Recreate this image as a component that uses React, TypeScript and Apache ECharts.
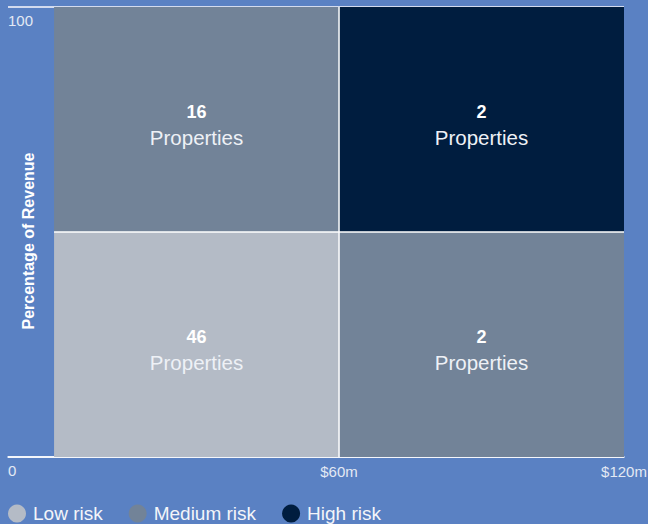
import React, { useEffect, useRef } from "react";
import * as echarts from "echarts";

// Cells: [xStart, xEnd, yStart, yEnd, propertyCount]
const lowRiskCells = [[0, 60, 0, 50, 46]];
const mediumRiskCells = [
  [0, 60, 50, 100, 16],
  [60, 120, 0, 50, 2],
];
const highRiskCells = [[60, 120, 50, 100, 2]];

const riskNames = ["Low risk", "Medium risk", "High risk"];
const riskColors = ["#b4bbc6", "#728398", "#001d3f"];
const xTickValues = [60, 120];
const yAxisTitle = "Percentage of Revenue";
const cellLabel = "Properties";

const FONT = "'Liberation Sans', Arial, Helvetica, sans-serif";

function renderCell(params: any, api: any) {
  const x0 = api.value(0);
  const x1 = api.value(1);
  const y0 = api.value(2);
  const y1 = api.value(3);
  const n = api.value(4);
  const tl = api.coord([x0, y1]);
  const br = api.coord([x1, y0]);
  const children: any[] = [
    {
      type: "rect",
      shape: { x: tl[0], y: tl[1], width: br[0] - tl[0], height: br[1] - tl[1] },
      style: { fill: api.visual("color") },
    },
  ];
  if (x0 > 0) {
    children.push({
      type: "line",
      shape: { x1: tl[0], y1: tl[1], x2: tl[0], y2: br[1] },
      style: { stroke: "#ffffff", lineWidth: 1.5 },
    });
  }
  if (y0 > 0) {
    children.push({
      type: "line",
      shape: { x1: tl[0], y1: br[1], x2: br[0], y2: br[1] },
      style: { stroke: "#ffffff", lineWidth: 1.5 },
    });
  }
  children.push({
    type: "text",
    style: {
      x: (tl[0] + br[0]) / 2,
      y: (tl[1] + br[1]) / 2 + 5,
      align: "center",
      verticalAlign: "middle",
      text: `{n|${n}}\n{p|${cellLabel}}`,
      rich: {
        n: { fontFamily: FONT, fontSize: 18, fontWeight: "bold", fill: "#ffffff", lineHeight: 26, align: "center" },
        p: { fontFamily: FONT, fontSize: 20.5, fill: "#eef1f6", lineHeight: 26, align: "center" },
      },
    },
  });
  return { type: "group", children };
}

function makeSeries(name: string, color: string, data: number[][]) {
  return {
    type: "custom",
    name,
    color,
    itemStyle: { color },
    renderItem: renderCell,
    encode: { x: [0, 1], y: [2, 3] },
    data,
    silent: true,
  };
}

export default function App() {
  const ref = useRef<HTMLDivElement>(null);
  useEffect(() => {
    if (!ref.current) return;
    const chart = echarts.init(ref.current, undefined, { renderer: "svg" });
    chart.setOption({
      animation: false,
      backgroundColor: "#5a81c3",
      textStyle: { fontFamily: FONT },
      grid: { left: 8, right: 24, top: 7, bottom: 67, outerBoundsMode: "none", containLabel: false },
      xAxis: {
        type: "value",
        min: -9.7,
        max: 120,
        axisLine: { show: true, lineStyle: { color: "#ffffff", width: 1.5 } },
        axisTick: { show: false },
        splitLine: { show: false },
        axisLabel: {
          customValues: xTickValues,
          formatter: (v: number) => `$${v}m`,
          color: "#e3e9f4",
          fontSize: 15,
          fontFamily: FONT,
          margin: 7,
        },
      },
      yAxis: {
        type: "value",
        min: 0,
        max: 100,
        interval: 100,
        name: yAxisTitle,
        nameLocation: "middle",
        nameGap: -28,
        nameRotate: 90,
        nameMoveOverlap: false,
        nameTextStyle: {
          color: "#ffffff",
          fontSize: 16,
          fontWeight: "bold",
          fontFamily: FONT,
          padding: [0, 18, 0, 0],
        },
        axisLine: { show: false },
        axisTick: { show: false },
        splitLine: { show: true, lineStyle: { color: "#d3dbee", width: 2 } },
        axisLabel: {
          inside: true,
          margin: 0,
          align: "left",
          verticalAlign: "top",
          padding: [6, 0, 0, 0],
          color: "#e3e9f4",
          fontSize: 15,
          fontFamily: FONT,
        },
      },
      legend: {
        left: 8,
        top: 504,
        padding: 0,
        icon: "circle",
        itemWidth: 18,
        itemHeight: 18,
        itemGap: 26,
        data: riskNames,
        textStyle: { color: "#f3f5f9", fontSize: 19, fontFamily: FONT, padding: [0, 0, 0, 2] },
      },
      series: [
        makeSeries(riskNames[0], riskColors[0], lowRiskCells),
        makeSeries(riskNames[1], riskColors[1], mediumRiskCells),
        makeSeries(riskNames[2], riskColors[2], highRiskCells),
      ],
    });
    return () => chart.dispose();
  }, []);
  return (
    <div
      ref={ref}
      style={{ position: "absolute", left: 0, top: 0, width: 648, height: 524 }}
    />
  );
}
